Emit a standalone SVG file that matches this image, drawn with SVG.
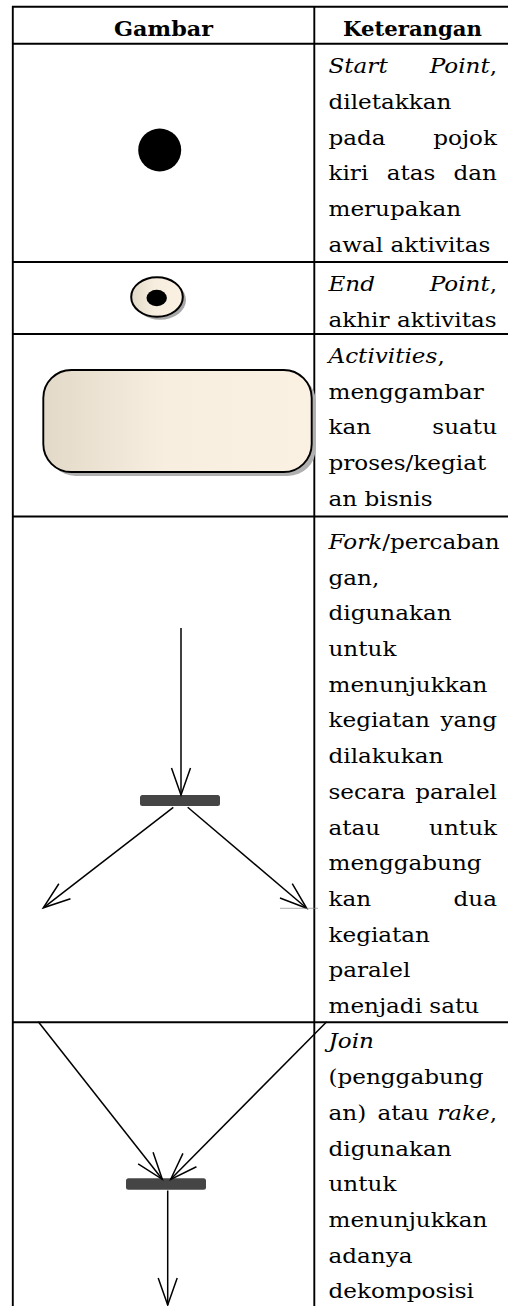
<svg xmlns="http://www.w3.org/2000/svg" width="508" height="1306" viewBox="0 0 508 1306">
<style>
.grid{stroke:#000;stroke-width:1.9;fill:none}
.hdr{font-family:"DejaVu Serif","Liberation Serif",serif;font-weight:bold;font-size:19.5px;fill:#000}
.t{font-family:"DejaVu Serif","Liberation Serif",serif;font-size:21px;fill:#000}
.i{font-style:italic}
.r{text-anchor:end}
.m{text-anchor:middle}
.flow{stroke:#000;stroke-width:1.5;fill:none}
.bar{fill:#454545}
</style>
<defs>
<linearGradient id="beige" x1="0" y1="0" x2="1" y2="0">
<stop offset="0" stop-color="#e3d9c8"/>
<stop offset="0.45" stop-color="#f8eee0"/>
<stop offset="1" stop-color="#fbf1e3"/>
</linearGradient>
<marker id="open" markerUnits="userSpaceOnUse" markerWidth="40" markerHeight="30" refX="0" refY="0" orient="auto" viewBox="-30 -15 40 30" overflow="visible">
<path d="M-27,-9.5 L0,0 L-27,9.5" fill="none" stroke="#000" stroke-width="1.5"/>
</marker>
</defs>

<g id="table">
<line class="grid" x1="12" y1="6.8" x2="508" y2="6.8"/>
<line class="grid" x1="12" y1="43.8" x2="508" y2="43.8"/>
<line class="grid" x1="12" y1="262" x2="508" y2="262"/>
<line class="grid" x1="12" y1="334" x2="508" y2="334"/>
<line class="grid" x1="12" y1="516.5" x2="508" y2="516.5"/>
<line class="grid" x1="12" y1="1022.3" x2="508" y2="1022.3"/>
<line class="grid" x1="12.8" y1="6" x2="12.8" y2="1306"/>
<line class="grid" x1="314.3" y1="6" x2="314.3" y2="1306"/>
<text class="hdr m" x="163.5" y="36" textLength="99" lengthAdjust="spacingAndGlyphs">Gambar</text>
<text class="hdr m" x="412.5" y="36" textLength="139" lengthAdjust="spacingAndGlyphs">Keterangan</text>
</g>

<g id="start-point">
<circle cx="159.7" cy="150" r="21.5" fill="#000"/>
</g>

<g id="end-point">
<ellipse cx="160" cy="300" rx="26" ry="19.7" fill="#a8a8a8"/>
<ellipse cx="157" cy="297" rx="25.8" ry="19.7" fill="url(#beige)" stroke="#000" stroke-width="2"/>
<ellipse cx="156.7" cy="298" rx="10.2" ry="8.2" fill="#000"/>
</g>

<g id="activity">
<rect x="47.5" y="374" width="268.4" height="102" rx="28" ry="28" fill="#b0b0b0"/>
<rect x="43.3" y="370" width="268.4" height="102" rx="28" ry="28" fill="url(#beige)" stroke="#000" stroke-width="1.9"/>
</g>

<g id="fork">
<rect class="bar" x="140" y="795" width="80" height="11" rx="2.5"/>
</g>

<g id="join">
<rect class="bar" x="126" y="1178.3" width="80" height="11.5" rx="2.5"/>
</g>

<g id="connectors">
<line class="flow" x1="181" y1="628" x2="181" y2="795" marker-end="url(#open)"/>
<line class="flow" x1="173.3" y1="807.3" x2="43.3" y2="907.8" marker-end="url(#open)"/>
<line class="flow" x1="187.7" y1="807.3" x2="306.7" y2="908.3" marker-end="url(#open)"/>
<line x1="280" y1="908.3" x2="318" y2="908.3" stroke="#8a8a8a" stroke-width="0.7"/>
<line class="flow" x1="38.3" y1="1021.7" x2="162.3" y2="1179.3" marker-end="url(#open)"/>
<line class="flow" x1="326.7" y1="1021.7" x2="170.7" y2="1179.3" marker-end="url(#open)"/>
<line class="flow" x1="167.7" y1="1190.5" x2="167.7" y2="1305" marker-end="url(#open)"/>
</g>

<g id="descriptions" transform="translate(328.5,0) scale(1.1,1)">
<text class="t i" x="0" y="73.3">Start</text>
<text class="t r" x="153.2" y="73.3"><tspan class="i">Point</tspan>,</text>
<text class="t" x="0" y="109">diletakkan</text>
<text class="t" x="0" y="144.7">pada</text>
<text class="t r" x="153.2" y="144.7">pojok</text>
<text class="t" x="0" y="180.4">kiri</text>
<text class="t m" x="75" y="180.4">atas</text>
<text class="t r" x="153.2" y="180.4">dan</text>
<text class="t" x="0" y="216.1">merupakan</text>
<text class="t" x="0" y="251.8">awal aktivitas</text>

<text class="t i" x="0" y="291">End</text>
<text class="t r" x="153.2" y="291"><tspan class="i">Point</tspan>,</text>
<text class="t" x="0" y="326.7">akhir aktivitas</text>

<text class="t" x="0" y="363"><tspan class="i">Activities</tspan>,</text>
<text class="t" x="0" y="398.7">menggambar</text>
<text class="t" x="0" y="434.4">kan</text>
<text class="t r" x="153.2" y="434.4">suatu</text>
<text class="t" x="0" y="470.1">proses/kegiat</text>
<text class="t" x="0" y="505.8">an bisnis</text>

<text class="t" x="0" y="549"><tspan class="i">Fork</tspan>/percaban</text>
<text class="t" x="0" y="584.7">gan,</text>
<text class="t" x="0" y="620.4">digunakan</text>
<text class="t" x="0" y="656.1">untuk</text>
<text class="t" x="0" y="691.8">menunjukkan</text>
<text class="t" x="0" y="727.5">kegiatan</text>
<text class="t r" x="153.2" y="727.5">yang</text>
<text class="t" x="0" y="763.2">dilakukan</text>
<text class="t" x="0" y="798.9">secara</text>
<text class="t r" x="153.2" y="798.9">paralel</text>
<text class="t" x="0" y="834.6">atau</text>
<text class="t r" x="153.2" y="834.6">untuk</text>
<text class="t" x="0" y="870.3">menggabung</text>
<text class="t" x="0" y="906">kan</text>
<text class="t r" x="153.2" y="906">dua</text>
<text class="t" x="0" y="941.7">kegiatan</text>
<text class="t" x="0" y="977.4">paralel</text>
<text class="t" x="0" y="1013.1">menjadi satu</text>

<text class="t i" x="0" y="1048.5">Join</text>
<text class="t" x="0" y="1084.2">(penggabung</text>
<text class="t" x="0" y="1119.9">an)</text>
<text class="t m" x="68" y="1119.9">atau</text>
<text class="t r" x="153.2" y="1119.9"><tspan class="i">rake</tspan>,</text>
<text class="t" x="0" y="1155.6">digunakan</text>
<text class="t" x="0" y="1191.3">untuk</text>
<text class="t" x="0" y="1227">menunjukkan</text>
<text class="t" x="0" y="1262.7">adanya</text>
<text class="t" x="0" y="1298.4">dekomposisi</text>
</g>
</svg>
